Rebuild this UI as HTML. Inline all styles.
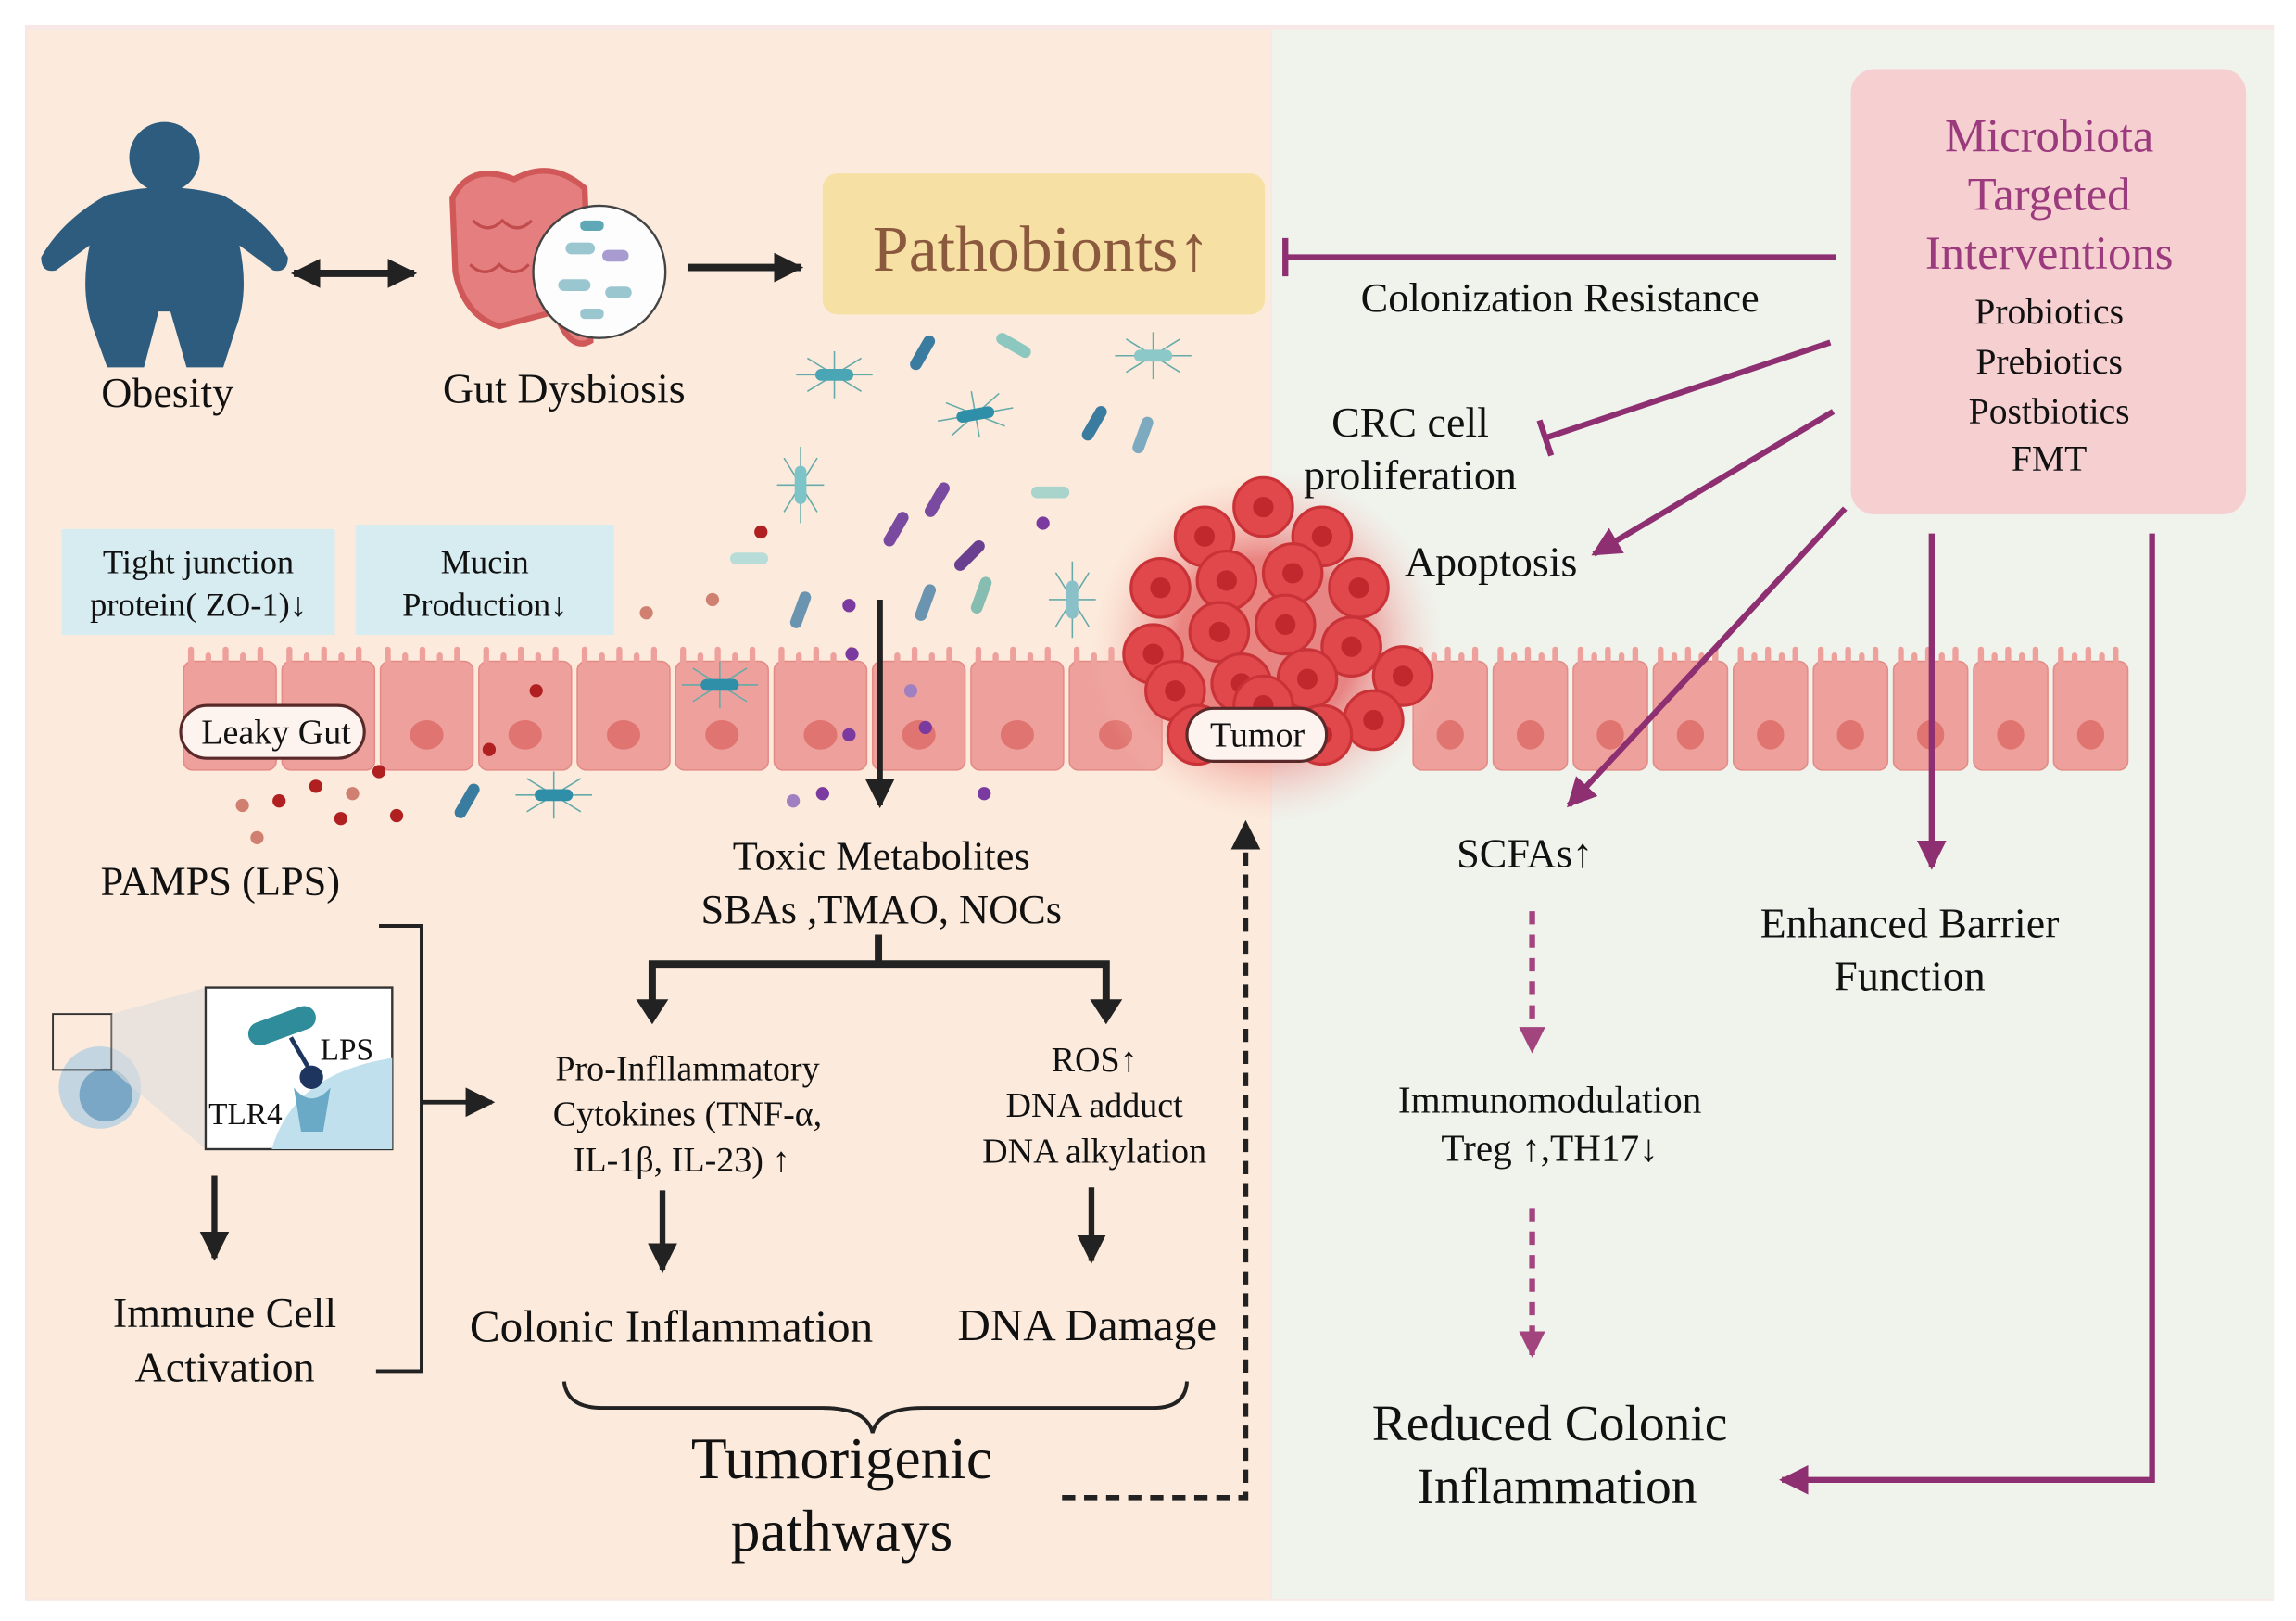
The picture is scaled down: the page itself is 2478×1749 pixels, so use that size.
<!DOCTYPE html>
<html><head><meta charset="utf-8"><style>
html,body{margin:0;padding:0;background:#fff;}
svg{display:block;}
text{font-family:"Liberation Serif",serif;fill:#111;}
</style></head><body>
<svg id="s" width="2478" height="1749" viewBox="0 0 1563 1103" preserveAspectRatio="none" xmlns="http://www.w3.org/2000/svg">
<defs>
<marker id="ak" viewBox="0 0 10 10" markerWidth="20" markerHeight="20" refX="9" refY="5" orient="auto-start-reverse" markerUnits="userSpaceOnUse"><path d="M0,0 L10,5 L0,10z" fill="#222"/></marker>
<marker id="ap" viewBox="0 0 10 10" markerWidth="20" markerHeight="20" refX="9" refY="5" orient="auto" markerUnits="userSpaceOnUse"><path d="M0,0 L10,5 L0,10z" fill="#8e2f72"/></marker>
<marker id="apd" viewBox="0 0 10 10" markerWidth="18" markerHeight="18" refX="9" refY="5" orient="auto" markerUnits="userSpaceOnUse"><path d="M0,0 L10,5 L0,10z" fill="#a2447e"/></marker>
<radialGradient id="tg" cx="0.5" cy="0.5" r="0.5"><stop offset="0.5" stop-color="#e56a6a" stop-opacity="0.8"/><stop offset="1" stop-color="#f7c9c0" stop-opacity="0"/></radialGradient>
</defs>
<rect x="17" y="17" width="1531" height="1072" fill="#f7e7e6"/>
<rect x="19" y="20" width="846" height="1068" fill="#fcebdc"/>
<rect x="866" y="20" width="682" height="1068" fill="#f0f2ec"/>

<!-- obesity figure -->
<g fill="#2d5c7f">
<circle cx="112" cy="107" r="24"/>
<path d="M72,133 Q112,122 152,133 Q182,150 196,175 Q196,186 186,184 L163,167 Q170,200 160,225 L152,250 L127,250 L116,212 L108,212 L98,250 L73,250 L64,225 Q54,200 61,167 L38,184 Q28,186 28,175 Q42,150 72,133z"/>
</g>
<text x="114" y="277" font-size="29" text-anchor="middle">Obesity</text>
<line x1="200" y1="186" x2="282" y2="186" stroke="#222" stroke-width="5" marker-end="url(#ak)" marker-start="url(#ak)"/>
<!-- gut -->
<path d="M308,135 Q320,110 350,122 Q375,108 398,128 L402,232 Q388,240 378,212 L340,222 Q316,215 310,185z" fill="#e57f7f" stroke="#d05858" stroke-width="4"/>
<path d="M322,150 q10,10 20,0 q10,10 20,0 M320,180 q10,10 20,0 q10,10 20,0" stroke="#c24c4c" fill="none" stroke-width="2"/>
<circle cx="408" cy="185" r="45" fill="#fdfdfd" stroke="#444" stroke-width="1.5"/>
<g fill="#9ac6cf"><rect x="385" y="165" width="20" height="8" rx="4"/><rect x="410" y="170" width="18" height="8" rx="4" fill="#a79bd0"/><rect x="380" y="190" width="22" height="8" rx="4"/><rect x="412" y="195" width="18" height="8" rx="4"/><rect x="395" y="150" width="16" height="7" rx="3" fill="#5fa9b6"/><rect x="395" y="210" width="16" height="7" rx="3"/></g>
<text x="384" y="274" font-size="29" text-anchor="middle">Gut Dysbiosis</text>
<line x1="468" y1="182" x2="545" y2="182" stroke="#222" stroke-width="5" marker-end="url(#ak)"/>
<rect x="560" y="118" width="301" height="96" rx="10" fill="#f6e0a3"/>
<text x="709" y="184" font-size="44" text-anchor="middle" style="fill:#8b5a3e">Pathobionts↑</text>

<!-- right box -->
<rect x="1260" y="47" width="269" height="303" rx="16" fill="#f6cfd1"/>
<g text-anchor="middle" font-size="32"><text x="1395" y="103" style="fill:#9b3b7d">Microbiota</text><text x="1395" y="143" style="fill:#9b3b7d">Targeted</text><text x="1395" y="183" style="fill:#9b3b7d">Interventions</text></g>
<g text-anchor="middle" font-size="25"><text x="1395" y="220">Probiotics</text><text x="1395" y="254">Prebiotics</text><text x="1395" y="288">Postbiotics</text><text x="1395" y="320">FMT</text></g>

<g id="cells"></g>
<g id="bugs"></g>

<!-- tumor -->
<circle cx="862" cy="440" r="120" fill="url(#tg)"/>
<g id="tum"></g>

<g stroke="#8e2f72" stroke-width="4" fill="none">
<line x1="1250" y1="175" x2="875" y2="175"/><line x1="875" y1="162" x2="875" y2="188"/>
<line x1="1246" y1="233" x2="1052" y2="298"/><line x1="1048" y1="286" x2="1056" y2="310"/>
<line x1="1248" y1="280" x2="1085" y2="377" marker-end="url(#ap)"/>
<line x1="1256" y1="346" x2="1068" y2="548" marker-end="url(#ap)"/>
<line x1="1315" y1="363" x2="1315" y2="590" marker-end="url(#ap)"/>
<polyline points="1465,363 1465,1007 1213,1007" marker-end="url(#ap)"/>
</g>
<g stroke="#a2447e" stroke-width="4" fill="none" stroke-dasharray="9,7">
<line x1="1043" y1="620" x2="1043" y2="715" marker-end="url(#apd)"/>
<line x1="1043" y1="822" x2="1043" y2="922" marker-end="url(#apd)"/>
</g>
<text x="1062" y="212" font-size="28" text-anchor="middle">Colonization Resistance</text>
<text x="960" y="297" font-size="29" text-anchor="middle">CRC cell</text>
<text x="960" y="333" font-size="29" text-anchor="middle">proliferation</text>
<text x="1015" y="392" font-size="29" text-anchor="middle">Apoptosis</text>
<text x="1038" y="590" font-size="28" text-anchor="middle">SCFAs↑</text>
<text x="1300" y="638" font-size="29" text-anchor="middle">Enhanced Barrier</text>
<text x="1300" y="674" font-size="29" text-anchor="middle">Function</text>
<text x="1055" y="757" font-size="26" text-anchor="middle">Immunomodulation</text>
<text x="1055" y="790" font-size="26" text-anchor="middle">Treg ↑,TH17↓</text>
<text x="1055" y="980" font-size="35" text-anchor="middle">Reduced Colonic</text>
<text x="1060" y="1023" font-size="35" text-anchor="middle">Inflammation</text>

<!-- blue labels -->
<rect x="42" y="360" width="186" height="72" fill="#d6ecf0"/>
<text x="135" y="390" font-size="23" text-anchor="middle">Tight junction</text>
<text x="135" y="419" font-size="23" text-anchor="middle">protein( ZO-1)↓</text>
<rect x="242" y="357" width="176" height="75" fill="#d6ecf0"/>
<text x="330" y="390" font-size="23" text-anchor="middle">Mucin</text>
<text x="330" y="419" font-size="23" text-anchor="middle">Production↓</text>

<rect x="123" y="480" width="125" height="36" rx="18" fill="#fdf3ef" stroke="#5a2a2a" stroke-width="2"/>
<text x="188" y="506" font-size="24" text-anchor="middle">Leaky Gut</text>
<rect x="808" y="482" width="95" height="36" rx="18" fill="#fdf3ef" stroke="#5a2a2a" stroke-width="2"/>
<text x="856" y="508" font-size="24" text-anchor="middle">Tumor</text>

<line x1="599" y1="408" x2="599" y2="548" stroke="#222" stroke-width="4" marker-end="url(#ak)"/>
<text x="600" y="592" font-size="28" text-anchor="middle">Toxic Metabolites</text>
<text x="600" y="628" font-size="28" text-anchor="middle">SBAs ,TMAO, NOCs</text>
<g stroke="#222" stroke-width="5" fill="none">
<line x1="598" y1="636" x2="598" y2="656"/>
<polyline points="444,690 444,656 753,656 753,690"/>
</g>
<path d="M433,680 L455,680 L444,697z M742,680 L764,680 L753,697z" fill="#222"/>
<text x="150" y="609" font-size="28" text-anchor="middle">PAMPS (LPS)</text>
<polyline points="258,630 287,630 287,933 256,933" stroke="#222" stroke-width="2.5" fill="none"/>
<line x1="287" y1="750" x2="335" y2="750" stroke="#222" stroke-width="3" marker-end="url(#ak)"/>
<!-- TLR4 inset -->
<circle cx="68" cy="740" r="28" fill="#9cc7e4" opacity="0.6"/><circle cx="72" cy="745" r="18" fill="#7aa7c6"/>
<rect x="36" y="690" width="40" height="38" fill="none" stroke="#333" stroke-width="1.2"/>
<polygon points="76,690 140,672 140,782 76,728" fill="#ddd" opacity="0.6"/>
<rect x="140" y="672" width="127" height="110" fill="#fff" stroke="#333" stroke-width="1.5"/>
<path d="M185,782 Q200,730 267,720 L267,782z" fill="#bfe0ec"/>
<rect x="168" y="690" width="48" height="16" rx="8" fill="#2f8c9a" transform="rotate(-20 192 698)"/>
<line x1="198" y1="706" x2="212" y2="730" stroke="#1e3560" stroke-width="3"/>
<circle cx="212" cy="733" r="8" fill="#1e3560"/>
<path d="M200,740 Q212,755 225,740 L220,770 L205,770z" fill="#6aaac6"/>
<text x="218" y="721" font-size="21">LPS</text><text x="142" y="765" font-size="21">TLR4</text>
<line x1="146" y1="800" x2="146" y2="856" stroke="#222" stroke-width="4" marker-end="url(#ak)"/>
<text x="153" y="903" font-size="29" text-anchor="middle">Immune Cell</text>
<text x="153" y="940" font-size="29" text-anchor="middle">Activation</text>
<text x="468" y="735" font-size="24" text-anchor="middle">Pro-Infllammatory</text>
<text x="468" y="766" font-size="24" text-anchor="middle">Cytokines (TNF-α,</text>
<text x="464" y="797" font-size="24" text-anchor="middle">IL-1β, IL-23) ↑</text>
<text x="745" y="729" font-size="24" text-anchor="middle">ROS↑</text>
<text x="745" y="760" font-size="24" text-anchor="middle">DNA adduct</text>
<text x="745" y="791" font-size="24" text-anchor="middle">DNA alkylation</text>
<line x1="451" y1="810" x2="451" y2="864" stroke="#222" stroke-width="4" marker-end="url(#ak)"/>
<line x1="743" y1="808" x2="743" y2="858" stroke="#222" stroke-width="4" marker-end="url(#ak)"/>
<text x="457" y="913" font-size="31" text-anchor="middle">Colonic Inflammation</text>
<text x="740" y="912" font-size="31" text-anchor="middle">DNA Damage</text>
<path d="M384,940 Q386,958 410,958 L560,958 Q590,958 594,975 Q598,958 628,958 L785,958 Q807,958 808,940" stroke="#222" stroke-width="2.5" fill="none"/>
<text x="573" y="1006" font-size="40" text-anchor="middle">Tumorigenic</text>
<text x="573" y="1055" font-size="40" text-anchor="middle">pathways</text>
<polyline points="723,1019 848,1019 848,575" stroke="#222" stroke-width="3.5" fill="none" stroke-dasharray="9,6"/>
<path d="M838,578 L858,578 L848,558z" fill="#222"/>
</svg>
<script>
var NS="http://www.w3.org/2000/svg";
function el(p,t,a){var e=document.createElementNS(NS,t);for(var k in a)e.setAttribute(k,a[k]);p.appendChild(e);return e;}
var c=document.getElementById("cells");
function cell(x,w){
 el(c,"rect",{x:x,y:450,width:w-4,height:74,rx:6,fill:"#eea19c",stroke:"#e48b86","stroke-width":1});
 for(var i=0;i<5;i++) el(c,"rect",{x:x+3+i*(w-8)/5,y:440+(i%2)*4,width:4,height:14,rx:2,fill:"#eea19c"});
 el(c,"ellipse",{cx:x+w/2-2,cy:500,rx:w*0.17,ry:10,fill:"#e07470"});
}
for(var x=125;x<775;x+=67) cell(x,67);
for(var k=0;k<9;k++) cell(962+k*54.5,54.5);
var t=document.getElementById("tum");
var pts=[[860,345],[820,365],[900,365],[790,400],[835,395],[880,390],[925,400],[785,445],[830,430],[875,425],[920,440],[955,460],[800,470],[845,465],[890,462],[935,490],[860,480],[900,500],[815,500]];
pts.forEach(function(p){el(t,"circle",{cx:p[0],cy:p[1],r:20,fill:"#e0484c",stroke:"#c93338","stroke-width":2});el(t,"circle",{cx:p[0],cy:p[1],r:7,fill:"#c0282e"});});
var b=document.getElementById("bugs");
var bugs=[[568,255,0,"#4aa6b4",1],[628,240,-60,"#3a7ba0",0],[664,282,-10,"#2f8fa8",1],[690,235,30,"#8cc8c0",0],[785,242,0,"#8cc8c8",1],[745,288,-60,"#3a7ba0",0],[778,296,-70,"#7eaac0",0],[545,330,-90,"#7cc4c8",1],[610,360,-60,"#7a4aa0",0],[638,340,-60,"#7a4aa0",0],[660,378,-45,"#6a3f90",0],[630,410,-70,"#6a94b0",0],[545,415,-70,"#6a94b0",0],[668,405,-70,"#86bdb0",0],[730,408,-90,"#8ac0c8",1],[490,466,0,"#2f8fa8",1],[377,541,0,"#2f8fa8",1],[318,545,-60,"#3a7ba0",0],[510,380,0,"#b8dcd8",0],[715,335,0,"#a8d4cc",0]];
bugs.forEach(function(q){var g=el(b,"g",{transform:"translate("+q[0]+","+q[1]+") rotate("+q[2]+")"});
 if(q[4]){for(var i=0;i<8;i++){var a=i*Math.PI/4;el(g,"line",{x1:0,y1:0,x2:26*Math.cos(a),y2:16*Math.sin(a),stroke:"#6aa","stroke-width":1});}}
 el(g,"rect",{x:-13,y:-4,width:26,height:8,rx:4,fill:q[3]});});
var dots=[[518,362,"#b02020"],[485,408,"#d08070"],[440,417,"#d08070"],[365,470,"#b02020"],[333,510,"#b02020"],[258,525,"#b02020"],[240,540,"#d08070"],[215,535,"#b02020"],[190,545,"#b02020"],[165,548,"#d08070"],[175,570,"#d08070"],[232,557,"#b02020"],[270,555,"#b02020"],[578,412,"#7a3aa0"],[580,445,"#7a3aa0"],[578,500,"#7a3aa0"],[560,540,"#7a3aa0"],[540,545,"#a080c0"],[620,470,"#a080c0"],[630,495,"#7a3aa0"],[670,540,"#7a3aa0"],[710,356,"#7a3aa0"]];
dots.forEach(function(d){el(b,"circle",{cx:d[0],cy:d[1],r:4.5,fill:d[2]});});
</script>
</body></html>
